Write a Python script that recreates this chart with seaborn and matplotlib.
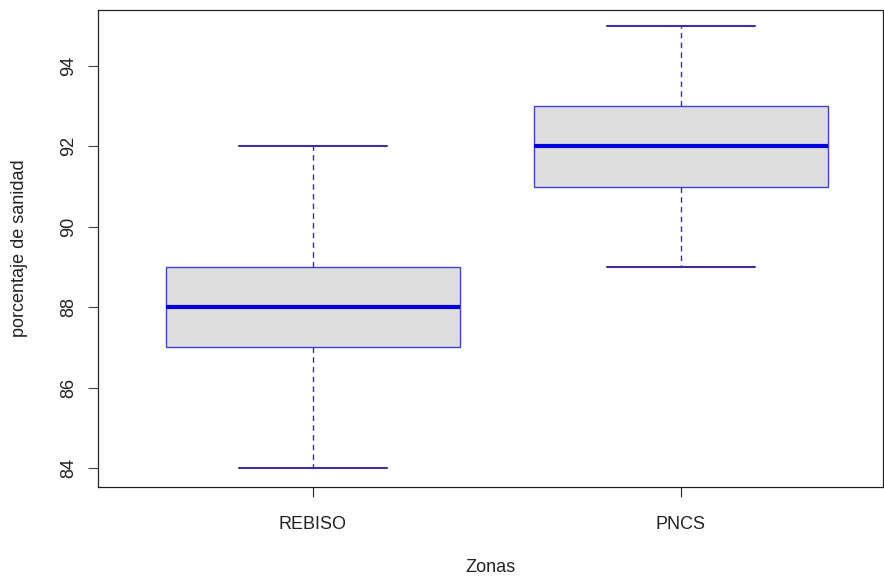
import matplotlib
matplotlib.use("Agg")
import matplotlib.pyplot as plt
import seaborn as sns
import pandas as pd

# valores (min, Q1, mediana, Q3, max)
zonas = ["REBISO", "PNCS"]
rebiso = [84, 87, 88, 89, 92]
pncs = [89, 91, 92, 93, 95]
yticks = [84, 86, 88, 90, 92, 94]

df = pd.DataFrame({
    "Zonas": ["REBISO"] * len(rebiso) + ["PNCS"] * len(pncs),
    "sanidad": rebiso + pncs,
})

sns.set_style("white")
plt.rcParams['font.family'] = ['Liberation Sans', 'DejaVu Sans']

fig = plt.figure(figsize=(8.84, 5.78), dpi=100)
ax = fig.add_axes([98/884, 1 - 487/578, 785/884, 477/578])

sns.boxplot(data=df, x="Zonas", y="sanidad", order=zonas, ax=ax,
            whis=(0, 100), width=0.8,
            boxprops=dict(facecolor="#DEDEDE", edgecolor="#4040C8", linewidth=1),
            medianprops=dict(color="#0000DD", linewidth=3),
            whiskerprops=dict(color="#3A3598", linestyle=(0, (4, 3)), linewidth=1),
            capprops=dict(color="#3B309E", linewidth=1.5),
            showfliers=False)

ax.set_xlim(-0.584, 1.549)
ax.set_ylim(83.53, 95.39)
ax.set_yticks(yticks)
ax.set_yticklabels([str(v) for v in yticks], rotation=90, va="center", fontsize=13)
ax.tick_params(axis="x", labelsize=13, length=7, width=0.8, colors="#222222", pad=14)
ax.tick_params(axis="y", length=7, width=0.8, colors="#444444", labelcolor="#222222", pad=8)
ax.tick_params(left=True, bottom=True)
for s in ax.spines.values():
    s.set_color("#222222")
    s.set_linewidth(0.9)

ax.set_xlabel("Zonas", fontsize=13, color="#222222", va="center")
ax.set_ylabel("porcentaje de sanidad", fontsize=13, color="#222222", va="center")
ax.xaxis.set_label_coords(0.5, -80/477)
ax.yaxis.set_label_coords(-78/785, 0.5)

fig.savefig("out.png", dpi=100)
